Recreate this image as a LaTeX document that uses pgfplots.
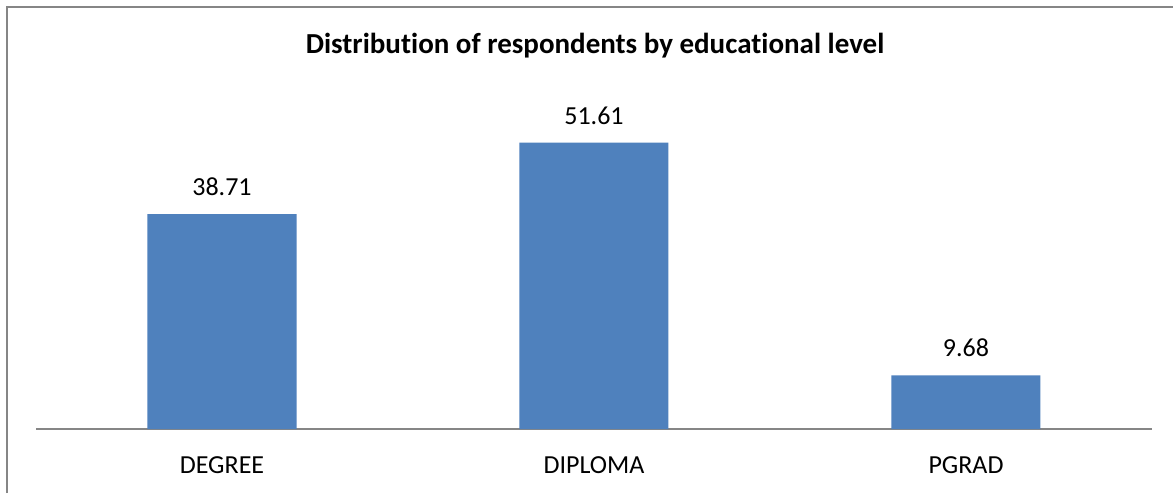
\documentclass[border=0pt]{standalone}
\usepackage{pgfplots}
\pgfplotsset{compat=1.18}
\usepackage{fontspec}
\setmainfont{Carlito}[Ligatures=CommonOff]
\definecolor{barblue}{RGB}{79,129,189}
\definecolor{framegray}{RGB}{134,134,134}
\begin{document}
\begin{tikzpicture}[x=1pt,y=1pt]
\useasboundingbox (0,0) rectangle (1173,493);
\fill[white] (0,0) rectangle (1173,493);
\draw[framegray, line width=1.2pt] (7,0) -- (7,486) -- (1173,486);
\node[font=\fontsize{29}{34}\selectfont\bfseries, anchor=base, inner sep=0pt] at (595,439) {Distribution of respondents by educational level};
\begin{axis}[
  at={(36pt,64pt)}, anchor=south west,
  scale only axis, width=1116pt, height=333pt,
  xmin=-0.5, xmax=2.5, ymin=0, ymax=60,
  axis x line*=bottom, hide y axis,
  x axis line style={framegray, line width=1.2pt},
  xtick=data, xticklabels={DEGREE,DIPLOMA,PGRAD},
  major tick length=0pt,
  xticklabel style={font=\fontsize{26}{30}\selectfont, inner sep=0pt, yshift=-27pt},
  ybar, bar width=149pt,
  nodes near coords,
  nodes near coords style={font=\fontsize{26}{30}\selectfont, inner sep=0pt, anchor=south, yshift=18pt, /pgf/number format/fixed, /pgf/number format/precision=2, /pgf/number format/fixed zerofill},
  /pgf/number format/assume math mode=true,
  clip=false,
]
\addplot[fill=barblue, draw=none] coordinates {(0,38.71) (1,51.61) (2,9.68)};
\end{axis}
\end{tikzpicture}
\end{document}
